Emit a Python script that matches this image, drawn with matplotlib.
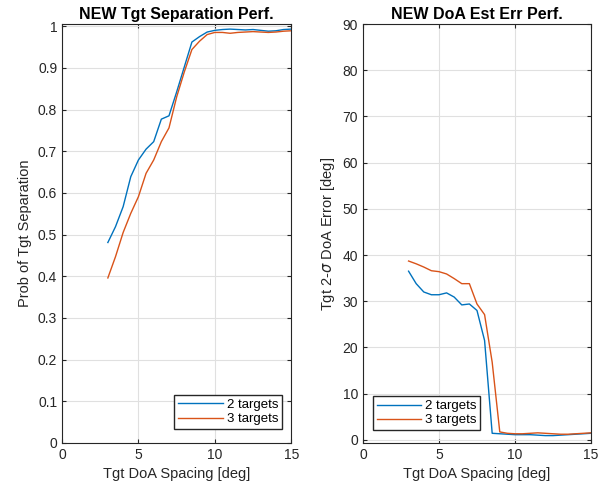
import numpy as np
import matplotlib.pyplot as plt

plt.rcParams['font.family'] = ['Liberation Sans', 'DejaVu Sans']

spacing = np.arange(3, 15.01, 0.5)

sep_2tgt = [0.481, 0.519, 0.567, 0.639, 0.679, 0.705, 0.723, 0.777, 0.785, 0.842,
            0.902, 0.962, 0.975, 0.986, 0.990, 0.992, 0.993, 0.992, 0.991, 0.992,
            0.990, 0.988, 0.989, 0.992, 0.993]
sep_3tgt = [0.396, 0.447, 0.505, 0.551, 0.591, 0.647, 0.679, 0.723, 0.756, 0.830,
            0.890, 0.944, 0.964, 0.980, 0.985, 0.985, 0.983, 0.985, 0.986, 0.987,
            0.986, 0.985, 0.986, 0.988, 0.989]

err_2tgt = [36.5, 33.8, 32.0, 31.4, 31.4, 31.8, 30.9, 29.2, 29.4, 28.0,
            21.5, 1.4, 1.3, 1.2, 1.1, 1.1, 1.1, 1.0, 0.9, 0.9,
            1.0, 1.1, 1.2, 1.3, 1.4]
err_3tgt = [38.7, 38.1, 37.4, 36.6, 36.4, 35.9, 34.9, 33.8, 33.8, 29.4,
            27.1, 16.8, 1.7, 1.4, 1.3, 1.3, 1.4, 1.5, 1.4, 1.3,
            1.2, 1.2, 1.3, 1.4, 1.5]

labels = ['2 targets', '3 targets']
c_blue = '#0072BD'
c_red = '#D95319'
dark = '#262626'

fig = plt.figure(figsize=(6.08, 4.92), dpi=100)
ax1 = fig.add_axes([0.102, 0.0996, 0.377, 0.8514])
ax2 = fig.add_axes([0.597, 0.0996, 0.375, 0.8514])


def style(ax):
    ax.grid(True, color='#e0e0e0', linewidth=0.8)
    ax.set_axisbelow(True)
    ax.tick_params(direction='in', top=True, right=True, labelsize=10,
                   length=3, color=dark, labelcolor=dark)
    for s in ax.spines.values():
        s.set_color(dark)
        s.set_linewidth(0.8)
    ax.set_xlim(0, 15)
    ax.set_xticks([0, 5, 10, 15])
    ax.set_xlabel('Tgt DoA Spacing [deg]', fontsize=10.5, color=dark)


leg_kw = dict(fontsize=9.5, fancybox=False, edgecolor=dark, framealpha=1,
              handlelength=3.4, borderpad=0.3, labelspacing=0.15,
              handletextpad=0.25, borderaxespad=0)

ax1.plot(spacing, sep_2tgt, color=c_blue, lw=1, label=labels[0])
ax1.plot(spacing, sep_3tgt, color=c_red, lw=1, label=labels[1])
style(ax1)
ax1.set_ylim(0, 1.005)
ax1.set_yticks(np.arange(0, 1.01, 0.1))
ax1.set_yticklabels(['0', '0.1', '0.2', '0.3', '0.4', '0.5', '0.6', '0.7', '0.8', '0.9', '1'])
ax1.set_ylabel('Prob of Tgt Separation', fontsize=10.5, color=dark)
ax1.set_title('NEW Tgt Separation Perf.', fontsize=11.5, fontweight='bold', pad=4)
ax1.legend(loc='lower right', bbox_to_anchor=(0.96, 0.033), **leg_kw)

ax2.plot(spacing, err_2tgt, color=c_blue, lw=1, label=labels[0])
ax2.plot(spacing, err_3tgt, color=c_red, lw=1, label=labels[1])
style(ax2)
ax2.set_ylim(-0.7, 90)
ax2.set_yticks(np.arange(0, 91, 10))
ax2.set_ylabel('Tgt 2-$\\sigma$ DoA Error [deg]', fontsize=10.5, color=dark)
ax2.set_title('NEW DoA Est Err Perf.', fontsize=11.5, fontweight='bold', pad=4)
ax2.legend(loc='lower left', bbox_to_anchor=(0.042, 0.03), **leg_kw)

fig.savefig('out.png', dpi=100)
